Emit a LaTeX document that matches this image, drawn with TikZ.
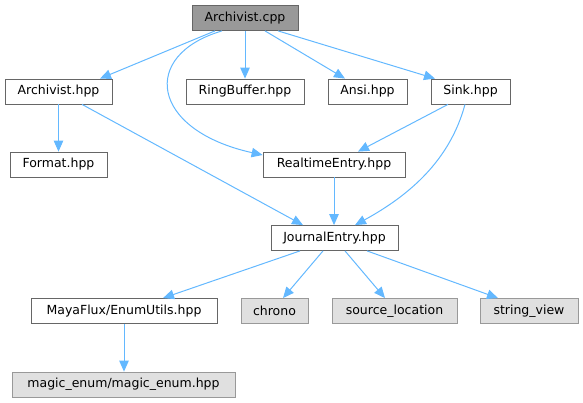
\documentclass[tikz,border=0pt]{standalone}
\usepackage{fontspec}
\setmainfont{DejaVu Sans}
\usetikzlibrary{arrows.meta}
\definecolor{edgeblue}{HTML}{63B8FF}
\definecolor{boxline}{HTML}{666666}
\definecolor{extline}{HTML}{999999}
\definecolor{extfill}{HTML}{E0E0E0}
\begin{document}
\begin{tikzpicture}[x=1pt,y=-1pt,
    file/.style={draw=boxline,fill=white,line width=0.8pt,minimum height=25pt,
        inner sep=0pt,font=\fontsize{12.5}{15}\selectfont},
    root/.style={file,fill=extline},
    ext/.style={file,draw=extline,fill=extfill},
    edge/.style={draw=edgeblue,line width=1pt,
        -{Triangle[length=11pt,width=9.5pt]}}]
\useasboundingbox (0,0) rectangle (583,403);

\node[root,minimum width=106pt] (cpp) at (245,18) {Archivist.cpp};

\node[file,minimum width=107pt] (ahpp) at (58.5,91.5) {Archivist.hpp};
\node[file,minimum width=118pt] (ring) at (245,91.5) {RingBuffer.hpp};
\node[file,minimum width=79pt] (ansi) at (367.5,91.5) {Ansi.hpp};
\node[file,minimum width=79pt] (sink) at (470.5,91.5) {Sink.hpp};

\node[file,minimum width=97pt] (format) at (58.5,164.5) {Format.hpp};
\node[file,minimum width=142pt] (rt) at (334,164.5) {RealtimeEntry.hpp};

\node[file,minimum width=127pt] (journal) at (334.5,238) {JournalEntry.hpp};

\node[file,minimum width=186pt] (enum) at (124,311) {MayaFlux/EnumUtils.hpp};
\node[ext,minimum width=67pt] (chrono) at (274.5,311) {chrono};
\node[ext,minimum width=125pt] (srcloc) at (394.5,311) {source\_location};
\node[ext,minimum width=98pt] (sv) at (529,311) {string\_view};

\node[ext,minimum width=223pt] (magic) at (123.5,384.5) {magic\_enum/magic\_enum.hpp};

\draw[edge] ([xshift=-30pt]cpp.south) -- ([xshift=41.5pt]ahpp.north);
\draw[edge] (cpp.south) -- (ring.north);
\draw[edge] ([xshift=20pt]cpp.south) -- ([xshift=-22.5pt]ansi.north);
\draw[edge] ([xshift=33pt]cpp.south) -- ([xshift=-35.5pt]sink.north);
\draw[edge] ([xshift=-23pt]cpp.south)
    .. controls (140,55) and (150,130) .. ([yshift=9.5pt]rt.west);

\draw[edge] (ahpp.south) -- (format.north);
\draw[edge] ([xshift=23.5pt]ahpp.south) -- ([xshift=-31.5pt]journal.north);
\draw[edge] ([xshift=-22.5pt]sink.south) -- ([xshift=24pt]rt.north);
\draw[edge] ([xshift=-5.5pt]sink.south)
    .. controls (450,160) and (410,195) .. ([xshift=20.5pt]journal.north);
\draw[edge] (rt.south) -- (rt.south |- journal.north);

\draw[edge] ([xshift=-34.5pt]journal.south) -- ([xshift=39pt]enum.north);
\draw[edge] ([xshift=-11.5pt]journal.south) -- ([xshift=8.5pt]chrono.north);
\draw[edge] ([xshift=10.5pt]journal.south) -- ([xshift=-9.5pt]srcloc.north);
\draw[edge] ([xshift=32.5pt]journal.south) -- ([xshift=-31pt]sv.north);
\draw[edge] (enum.south) -- (enum.south |- magic.north);
\end{tikzpicture}
\end{document}
